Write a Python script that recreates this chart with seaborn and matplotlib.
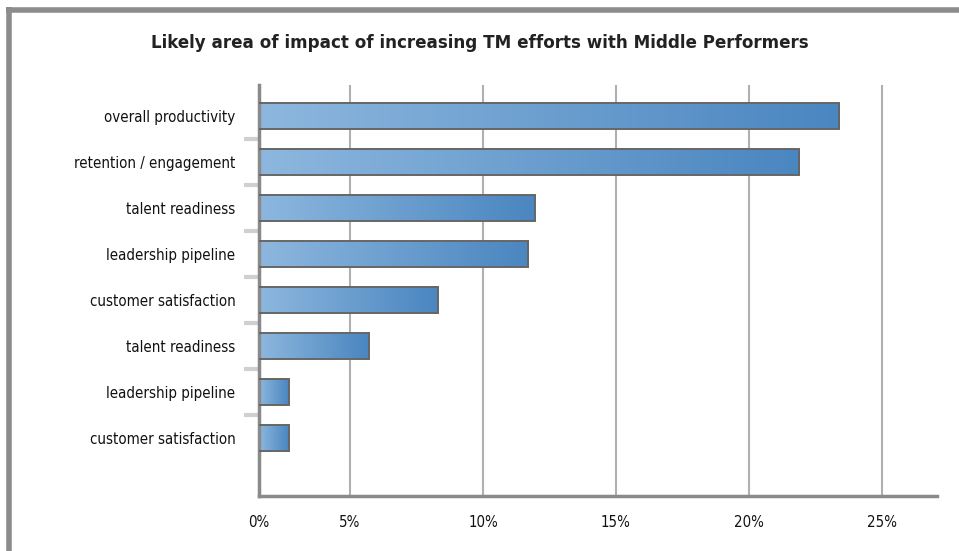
import numpy as np
import pandas as pd
import matplotlib
matplotlib.use("Agg")
import matplotlib.pyplot as plt
from matplotlib.colors import LinearSegmentedColormap
from matplotlib.lines import Line2D
import seaborn as sns

title = "Likely area of impact of increasing TM efforts with Middle Performers"
categories = ["overall productivity", "retention / engagement", "talent readiness",
              "leadership pipeline", "customer satisfaction", "talent readiness",
              "leadership pipeline", "customer satisfaction"]
values = [23.4, 21.9, 11.95, 11.7, 8.3, 5.7, 2.7, 2.7]
tick_values = [5, 10, 15, 20, 25]
tick_labels = ["5%", "10%", "15%", "20%", "25%"]

sns.set_theme(style="white")
plt.rcParams['font.family'] = ['DejaVu Sans']

W, H = 959, 551
fig = plt.figure(figsize=(W / 100, H / 100), dpi=100)
ax = fig.add_axes([259 / W, 1 - 496 / H, (937 - 259) / W, (496 - 85) / H])

df = pd.DataFrame({"key": [str(i) for i in range(len(values))], "value": values})
sns.barplot(data=df, x="value", y="key", orient="h", ax=ax, width=0.57,
            color="#6a9ccf", edgecolor="#666666", linewidth=1.4, zorder=3)

xmin = 1.58
cmap = LinearSegmentedColormap.from_list("g", ["#8db7de", "#4a86c0"])
grad = np.linspace(0, 1, 256).reshape(1, -1)
for p in ax.patches:
    x0, y0 = p.get_x(), p.get_y()
    w, h = p.get_width(), p.get_height()
    p.set_facecolor("none")
    im = ax.imshow(grad, cmap=cmap, aspect="auto", extent=[xmin, x0 + w, y0 + h, y0],
                   zorder=2.5, interpolation="bilinear")
    im.set_clip_path(p)

ax.set_xlim(xmin, 27.07)
ax.set_ylim(7 + 1.26, -0.67)

label_font = dict(family="DejaVu Sans", stretch="condensed", size=10.8, color="#111111")

# x ticks
ax.set_xticks([xmin] + tick_values)
ax.set_xticklabels(["0%"] + tick_labels, **label_font)
ax.tick_params(axis="x", length=0, pad=14)
for v in tick_values:
    ax.axvline(v, color="#b0b0b0", lw=1.5, zorder=1)

# y ticks
ax.set_yticks(range(len(categories)))
ax.set_yticklabels(categories, **label_font)
ax.set_yticks([i + 0.5 for i in range(len(categories) - 1)], minor=True)
ax.tick_params(axis="y", which="major", length=0, pad=17)
ax.tick_params(axis="y", which="minor", length=11, width=3, color="#d0d0d0", direction="out", pad=0, left=True)
ax.set_xlabel("")
ax.set_ylabel("")

for s in ["top", "right"]:
    ax.spines[s].set_visible(False)
for s in ["left", "bottom"]:
    ax.spines[s].set_color("#8a8a8a")
    ax.spines[s].set_linewidth(2.5)

fig.text(480 / W, 1 - 43 / H, title, ha="center", va="center", fontsize=12.1,
         fontweight="bold", family="DejaVu Sans", color="#222222")

# outer frame (top and left gray bands)
fig.add_artist(Line2D([6 / W, 1], [1 - 9.5 / H, 1 - 9.5 / H], transform=fig.transFigure,
                      color="#8c8c8c", lw=4, solid_capstyle="butt"))
fig.add_artist(Line2D([8.5 / W, 8.5 / W], [0, 1 - 7 / H], transform=fig.transFigure,
                      color="#8c8c8c", lw=4, solid_capstyle="butt"))

fig.savefig("out.png", dpi=100)
